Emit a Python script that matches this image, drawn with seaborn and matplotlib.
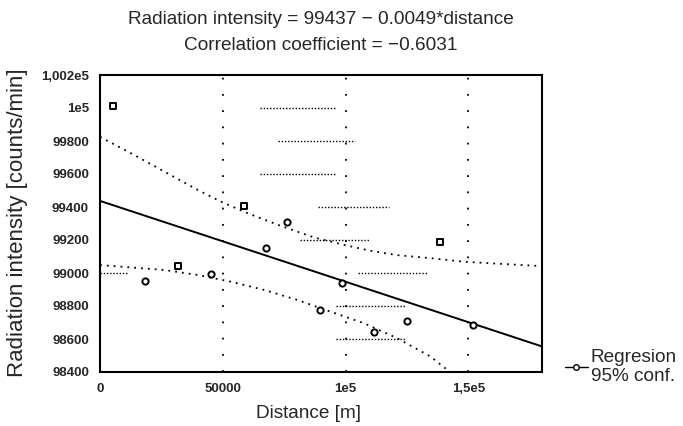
import numpy as np
import pandas as pd
import matplotlib
matplotlib.use("Agg")
import matplotlib.pyplot as plt
import seaborn as sns
from matplotlib.lines import Line2D

# ---------------- data ----------------
distance = [5200, 18300, 31800, 45100, 58500, 67400, 76300, 89400,
            98500, 111500, 125100, 151800, 138600]
intensity = [100015, 98952, 99042, 98992, 99408, 99153, 99307, 98774,
             98938, 98644, 98711, 98685, 99186]
marker_kind = ["s", "o", "s", "o", "s", "o", "o", "o",
               "o", "o", "o", "o", "s"]

intercept = 99437
slope = -0.0049
corr = -0.6031

upper_x = [0, 12720, 26300, 39840, 49310, 60160, 73700, 87280, 99470,
           110000, 121140, 134670, 148250, 179300]
upper_y = [99825, 99725, 99614, 99503, 99432, 99362, 99285, 99215, 99170,
           99135, 99108, 99090, 99068, 99042]
lower_x = [0, 26300, 39840, 53370, 66950, 80490, 94020, 107600, 121140,
           134670, 141460, 143300]
lower_y = [99048, 99018, 98988, 98947, 98897, 98836, 98765, 98695, 98604,
           98493, 98412, 98395]

# stray horizontal dotted segments in the scan
seg_y = [100000, 99800, 99600, 99400, 99200, 99000, 99000, 98800, 98600]
seg_x0 = [65000, 72400, 65000, 88600, 81300, 0, 104900, 96300, 96300]
seg_x1 = [96300, 104000, 96300, 117500, 109800, 11000, 133700, 124800, 124800]

x_ticks = [0, 50000, 100000, 150000]
x_tick_labels = ["0", "50000", "1e5", "1,5e5"]
y_ticks = [100200, 100000, 99800, 99600, 99400, 99200, 99000, 98800, 98600, 98400]
y_tick_labels = ["1,002e5", "1e5", "99800", "99600", "99400", "99200",
                 "99000", "98800", "98600", "98400"]

title_1 = "Radiation intensity = 99437 \u2212 0.0049*distance"
title_2 = "Correlation coefficient = \u22120.6031"
x_label = "Distance [m]"
y_label = "Radiation intensity [counts/min]"
legend_label = "Regresion\n95% conf."

# ---------------- styling ----------------
sns.set_style("white")
plt.rcParams["font.family"] = ["Liberation Sans", "DejaVu Sans"]

W, H = 683, 426
fig = plt.figure(figsize=(W / 100, H / 100), dpi=100)
ax = fig.add_axes([100 / W, 1 - 372 / H, (542 - 100) / W, (372 - 75) / H])

# vertical sparse dotted grid
for xv in x_ticks[1:]:
    ax.axvline(xv, color="black", lw=1.3, ls=(0, (1, 8)), zorder=1)

# stray horizontal dotted segments
for yv, a, b in zip(seg_y, seg_x0, seg_x1):
    ax.hlines(yv, a, b, color="black", lw=1.0, ls=(0, (1, 1.3)), zorder=1)

# regression line
reg_df = pd.DataFrame({"x": [0, 180000]})
reg_df["y"] = intercept + slope * reg_df["x"]
sns.lineplot(data=reg_df, x="x", y="y", ax=ax, color="black", lw=1.4, zorder=3)

# confidence bands
band_up = pd.DataFrame({"x": upper_x, "y": upper_y})
band_lo = pd.DataFrame({"x": lower_x, "y": lower_y})
for b in (band_up, band_lo):
    sns.lineplot(data=b, x="x", y="y", ax=ax, color="black", lw=1.3,
                 ls=(0, (1, 2.8)), zorder=2, sort=False)

# points
pts = pd.DataFrame({"distance": distance, "intensity": intensity, "kind": marker_kind})
for mk, sub in pts.groupby("kind"):
    sns.scatterplot(data=sub, x="distance", y="intensity", ax=ax, marker=mk,
                    s=20, facecolor="white", edgecolor="black", linewidth=1.4,
                    zorder=4, legend=False)

ax.set_xlim(0, 180000)
ax.set_ylim(98400, 100200)
ax.set_xticks(x_ticks)
ax.set_xticklabels(x_tick_labels, fontsize=9.5, fontweight="bold")
ax.set_yticks(y_ticks)
ax.set_yticklabels(y_tick_labels, fontsize=9.5, fontweight="bold")
ax.tick_params(axis="x", length=0, pad=8)
ax.tick_params(axis="y", direction="in", length=4, width=1, pad=8, color="black")
ax.set_xlabel("")
ax.set_ylabel("")
for s in ax.spines.values():
    s.set_color("black")
    s.set_linewidth(1.5)

fig.text(321 / W, 1 - 20 / H, title_1, ha="center", va="center", fontsize=13.7)
fig.text(321 / W, 1 - 45 / H, title_2, ha="center", va="center", fontsize=13.7)
fig.text(308 / W, 1 - 414 / H, x_label, ha="center", va="center", fontsize=13.7)
fig.text(18 / W, 1 - 223 / H, y_label, ha="center", va="center",
         rotation=90, fontsize=16)

handle = Line2D([0], [0], color="black", lw=1.0, marker="o", ms=4,
                mfc="white", mec="black")
fig.legend([handle], [legend_label], loc="center left",
           bbox_to_anchor=(565 / W, 1 - 367 / H), frameon=False,
           fontsize=13.7, handlelength=1.2, handletextpad=0.15,
           borderpad=0, borderaxespad=0)

fig.savefig("out.png", dpi=100)
